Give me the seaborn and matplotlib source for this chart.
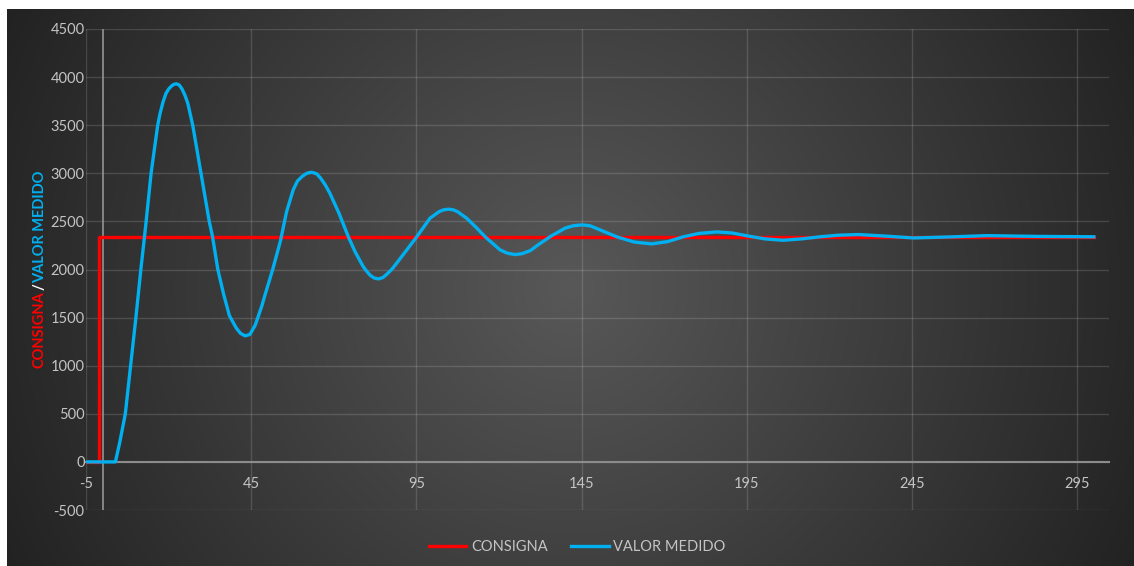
import numpy as np
import pandas as pd
import seaborn as sns
import matplotlib.pyplot as plt

# data
consigna_x = [-5, -1, -1, 300]
consigna_y = [0, 0, 2340, 2340]

medido_x = [-5, 3.9, 5.2, 6.9, 8.5, 10.1, 11.6, 12.7, 13.2, 14.7, 16.7, 17.4, 18.3, 19.2,
            20.0, 20.8, 21.6, 22.4, 23.2, 24.0, 24.9, 25.8, 27.3, 29.8, 32.3, 33.3, 34.9,
            36.6, 38.4, 40.5, 41.8, 43.2, 44.6, 46.2, 48.2, 49.3, 51.5, 53.8, 55.7, 57.7,
            59.0, 60.5, 61.8, 63.3, 64.8, 66.0, 67.4, 68.8, 71.5, 74.4, 76.5, 78.9, 80.0,
            81.0, 82.2, 83.5, 84.8, 86.0, 87.5, 89.0, 92.0, 95.1, 99.1, 101.8, 103.2,
            104.7, 106.2, 107.5, 110.2, 113.0, 115.8, 120.3, 122.5, 124.8, 127.0, 129.4,
            132.0, 135.4, 140.0, 142.5, 145.0, 147.5, 150.0, 155.6, 161.0, 166.2, 171.0,
            175.8, 180.5, 185.9, 190.5, 195.0, 200.5, 206.0, 211.5, 217.2, 222.5, 228.8,
            237.0, 245.4, 256.0, 267.6, 283.0, 300.0]
medido_y = [0, 0, 200, 500, 1000, 1500, 2000, 2340, 2500, 3000, 3500, 3620, 3740, 3830,
            3875, 3905, 3925, 3930, 3918, 3880, 3815, 3730, 3500, 3000, 2500, 2340, 2000,
            1750, 1520, 1390, 1335, 1310, 1325, 1420, 1620, 1750, 2000, 2290, 2600, 2827,
            2920, 2970, 3000, 3011, 2995, 2950, 2880, 2793, 2590, 2340, 2180, 2030, 1980,
            1940, 1912, 1902, 1915, 1950, 2000, 2065, 2200, 2340, 2533, 2600, 2620,
            2627, 2620, 2600, 2533, 2440, 2340, 2204, 2170, 2155, 2165, 2195,
            2260, 2340, 2430, 2455, 2464, 2455, 2420, 2340, 2285, 2266, 2290,
            2340, 2375, 2391, 2380, 2350, 2318, 2304, 2318, 2340, 2356, 2363,
            2347, 2328, 2338, 2352, 2344, 2340]

x_ticks = [-5, 45, 95, 145, 195, 245, 295]
y_ticks = [-500, 0, 500, 1000, 1500, 2000, 2500, 3000, 3500, 4000, 4500]

RED = "#ff0000"
BLUE = "#00b0f0"
TXT = "#c4c4c4"

plt.rcParams['font.family'] = ['Lato', 'DejaVu Sans']

W, H = 1134, 566
fig = plt.figure(figsize=(W / 100, H / 100), dpi=100, facecolor="white")

# radial gradient background
bg = fig.add_axes([7 / W, 0, 1 - 7 / W, 1 - 9 / H], zorder=0)
gw, gh = 1127, 557
yy, xx = np.mgrid[0:gh, 0:gw]
d = np.sqrt((xx - gw / 2) ** 2 + (yy - gh / 2) ** 2)
v = np.clip(88 - (88 - 34) * d / 630, 30, 90) / 255
bg.imshow(np.dstack([v, v, v]), aspect="auto", extent=[0, 1, 0, 1])
bg.axis("off")

ax = fig.add_axes([86 / W, 1 - 510 / H, (1109 - 86) / W, (510 - 29) / H], zorder=1)
ax.set_facecolor("none")

df1 = pd.DataFrame({"x": consigna_x, "y": consigna_y})
df2 = pd.DataFrame({"x": medido_x, "y": medido_y})
sns.lineplot(data=df1, x="x", y="y", ax=ax, color=RED, lw=2.4, sort=False,
             estimator=None, label="CONSIGNA")
sns.lineplot(data=df2, x="x", y="y", ax=ax, color=BLUE, lw=2.4, sort=False,
             estimator=None, label="VALOR MEDIDO")
for ln in ax.get_lines():
    ln.set_solid_joinstyle("round")

ax.set_xlim(-5, 304.6)
ax.set_ylim(-500, 4500)
ax.set_xticks(x_ticks)
ax.set_xticklabels([str(t) for t in x_ticks])
ax.set_yticks(y_ticks)
ax.set_yticklabels([str(t) for t in y_ticks])
ax.grid(True, color="white", alpha=0.14, lw=1)
ax.set_axisbelow(True)
for s in ["top", "right", "left"]:
    ax.spines[s].set_visible(False)
ax.spines["bottom"].set_position(("data", 0))
ax.spines["bottom"].set_color("#8c8c8c")
ax.spines["bottom"].set_linewidth(1.5)
ax.spines["bottom"].set_zorder(1.5)
ax.axvline(0, color="#8c8c8c", lw=1.3, zorder=1.5)
ax.tick_params(axis="x", length=0, pad=11, labelcolor=TXT, labelsize=10.5)
ax.tick_params(axis="y", length=0, pad=1, labelcolor=TXT, labelsize=10.5)
ax.set_xlabel("")
ax.set_ylabel("")
ax.get_legend().remove()

# multi-coloured y title
fig.text(40 / W, 1 - 330 / H, "CONSIGNA", color=RED, rotation=90, fontsize=10.5,
         fontweight="bold", ha="center", va="center")
fig.text(40 / W, 1 - 287 / H, "/", color="white", rotation=90, fontsize=10.5,
         fontweight="bold", ha="center", va="center")
fig.text(40 / W, 1 - 227 / H, "VALOR MEDIDO", color=BLUE, rotation=90, fontsize=10.5,
         fontweight="bold", ha="center", va="center")

h, l = ax.get_legend_handles_labels()
leg = fig.legend(h, l, loc="center", bbox_to_anchor=(577 / W, 1 - 547 / H), ncol=2,
                 frameon=False, handlelength=2.6, handletextpad=0.3, columnspacing=1.6,
                 fontsize=10.5)
for t in leg.get_texts():
    t.set_color(TXT)

fig.savefig("out.png", dpi=100, facecolor="white")
